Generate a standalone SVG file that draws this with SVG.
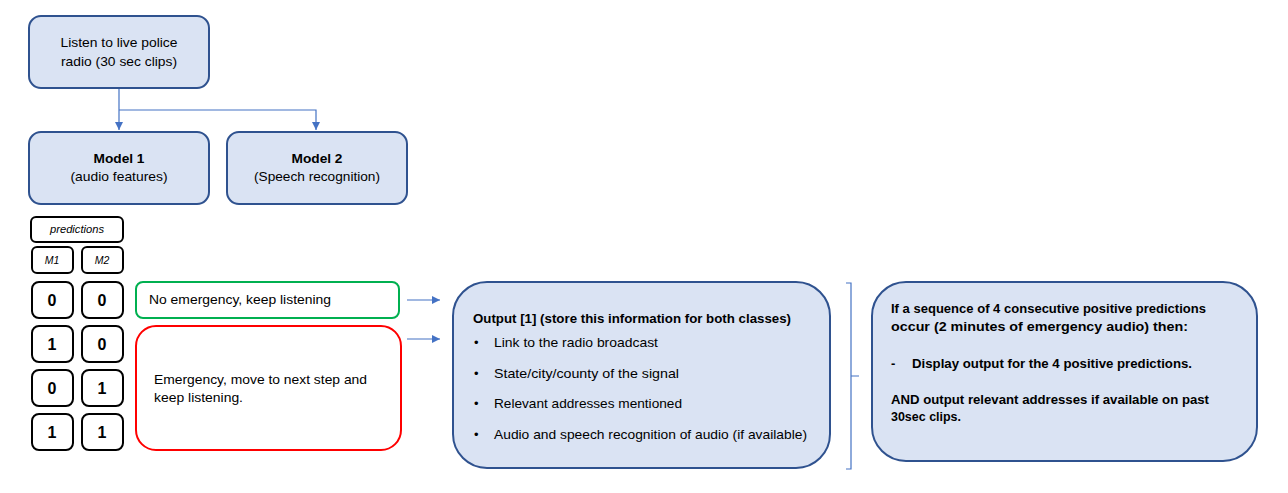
<svg xmlns="http://www.w3.org/2000/svg" width="1288" height="493" viewBox="0 0 1288 493">
<defs>
<style>
.blue{fill:#dae3f3;stroke:#2f528f;stroke-width:2}
.cell{fill:#ffffff;stroke:#000000;stroke-width:2}
.t{font-family:"Liberation Sans",Arial,sans-serif;font-size:13px;fill:#000}
.b{font-weight:bold}
.c{text-anchor:middle}
.i{font-style:italic;font-size:10.5px}
.n{font-weight:bold;font-size:16px;text-anchor:middle}
.conn{fill:none;stroke:#4472c4;stroke-width:1.2}
</style>
<marker id="ah" viewBox="0 0 10 10" refX="10" refY="5" markerWidth="8" markerHeight="8" markerUnits="userSpaceOnUse" orient="auto">
<path d="M0,0 L10,5 L0,10 z" fill="#4472c4"/>
</marker>
</defs>
<rect width="1288" height="493" fill="#ffffff"/>

<g id="connectors">
<path class="conn" d="M119,88 V130" marker-end="url(#ah)"/>
<path class="conn" d="M119,110 H316 V130" marker-end="url(#ah)"/>
<path class="conn" d="M407,300 H440" marker-end="url(#ah)"/>
<path class="conn" d="M407,339 H440" marker-end="url(#ah)"/>
<path class="conn" d="M846,283 H851 V469 H846 M851,376 H859"/>
</g>

<g id="listen">
<rect class="blue" x="29" y="16" width="180" height="72" rx="12"/>
<text class="t c" x="119" y="47" textLength="117" lengthAdjust="spacingAndGlyphs">Listen to live police</text>
<text class="t c" x="119" y="66" textLength="116" lengthAdjust="spacingAndGlyphs">radio (30 sec clips)</text>
</g>

<g id="model1">
<rect class="blue" x="29" y="132" width="180" height="72" rx="12"/>
<text class="t b c" x="119" y="163" textLength="51" lengthAdjust="spacingAndGlyphs">Model 1</text>
<text class="t c" x="119" y="181" textLength="97" lengthAdjust="spacingAndGlyphs">(audio features)</text>
</g>

<g id="model2">
<rect class="blue" x="227" y="132" width="180" height="72" rx="12"/>
<text class="t b c" x="317" y="163" textLength="51" lengthAdjust="spacingAndGlyphs">Model 2</text>
<text class="t c" x="317" y="181" textLength="126" lengthAdjust="spacingAndGlyphs">(Speech recognition)</text>
</g>

<g id="predictions">
<rect class="cell" x="31" y="217" width="92" height="25" rx="5" stroke-width="1.5"/>
<text class="t i c" x="77" y="233" textLength="54" lengthAdjust="spacingAndGlyphs">predictions</text>
<rect class="cell" x="32" y="247" width="41" height="26" rx="5" stroke-width="1.5"/>
<text class="t i c" x="52" y="264">M1</text>
<rect class="cell" x="82" y="247" width="41" height="26" rx="5" stroke-width="1.5"/>
<text class="t i c" x="102" y="264">M2</text>
</g>

<g id="rows">
<rect class="cell" x="32" y="282" width="41" height="36" rx="7"/>
<rect class="cell" x="82" y="282" width="41" height="36" rx="7"/>
<text class="t n" x="52" y="306">0</text>
<text class="t n" x="102" y="306">0</text>
<rect class="cell" x="32" y="326" width="41" height="36" rx="7"/>
<rect class="cell" x="82" y="326" width="41" height="36" rx="7"/>
<text class="t n" x="52" y="350">1</text>
<text class="t n" x="102" y="350">0</text>
<rect class="cell" x="32" y="370" width="41" height="36" rx="7"/>
<rect class="cell" x="82" y="370" width="41" height="36" rx="7"/>
<text class="t n" x="52" y="394">0</text>
<text class="t n" x="102" y="394">1</text>
<rect class="cell" x="32" y="414" width="41" height="36" rx="7"/>
<rect class="cell" x="82" y="414" width="41" height="36" rx="7"/>
<text class="t n" x="52" y="438">1</text>
<text class="t n" x="102" y="438">1</text>
</g>

<g id="no-emergency">
<rect x="136" y="282" width="263" height="36" rx="7" fill="#ffffff" stroke="#00b050" stroke-width="2"/>
<text class="t" x="149" y="304" textLength="182" lengthAdjust="spacingAndGlyphs">No emergency, keep listening</text>
</g>

<g id="emergency">
<rect x="136" y="326" width="265" height="124" rx="20" fill="#ffffff" stroke="#ff0000" stroke-width="2"/>
<text class="t" x="154" y="384" textLength="213" lengthAdjust="spacingAndGlyphs">Emergency, move to next step and</text>
<text class="t" x="154" y="402" textLength="89" lengthAdjust="spacingAndGlyphs">keep listening.</text>
</g>

<g id="output">
<rect class="blue" x="453" y="282" width="377" height="186" rx="34"/>
<text class="t b" x="473" y="323" textLength="318" lengthAdjust="spacingAndGlyphs">Output [1] (store this information for both classes)</text>
<text class="t" x="474" y="347">•</text>
<text class="t" x="494" y="347" textLength="164" lengthAdjust="spacingAndGlyphs">Link to the radio broadcast</text>
<text class="t" x="474" y="378">•</text>
<text class="t" x="494" y="378" textLength="185" lengthAdjust="spacingAndGlyphs">State/city/county of the signal</text>
<text class="t" x="474" y="408">•</text>
<text class="t" x="494" y="408" textLength="188" lengthAdjust="spacingAndGlyphs">Relevant addresses mentioned</text>
<text class="t" x="474" y="439">•</text>
<text class="t" x="494" y="439" textLength="313" lengthAdjust="spacingAndGlyphs">Audio and speech recognition of audio (if available)</text>
</g>

<g id="sequence">
<rect class="blue" x="872" y="282" width="385" height="179" rx="34"/>
<text class="t b" x="891" y="313" textLength="315" lengthAdjust="spacingAndGlyphs">If a sequence of 4 consecutive positive predictions</text>
<text class="t b" x="891" y="331" textLength="297" lengthAdjust="spacingAndGlyphs">occur (2 minutes of emergency audio) then:</text>
<text class="t b" x="891" y="368">-</text>
<text class="t b" x="912" y="368" textLength="280" lengthAdjust="spacingAndGlyphs">Display output for the 4 positive predictions.</text>
<text class="t b" x="891" y="404" textLength="318" lengthAdjust="spacingAndGlyphs">AND output relevant addresses if available on past</text>
<text class="t b" x="891" y="421" textLength="70" lengthAdjust="spacingAndGlyphs">30sec clips.</text>
</g>
</svg>
